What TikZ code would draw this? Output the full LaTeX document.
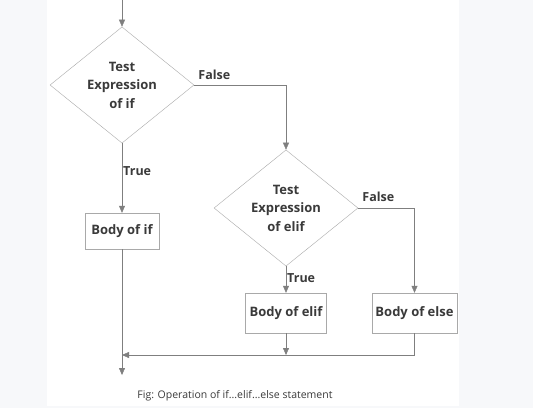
\documentclass[tikz,border=0pt]{standalone}
\usepackage{fontspec}
\setmainfont{Open Sans}
\usetikzlibrary{shapes.geometric, arrows.meta, positioning}
\definecolor{LineGray}{HTML}{7F7F7F}
\definecolor{EdgeGray}{HTML}{A9A9A9}
\definecolor{TextGray}{HTML}{3A3A3A}
\definecolor{PageGray}{HTML}{F7F8FA}
\tikzstyle{test_box}=[diamond,
        draw=EdgeGray,
        minimum width=144pt,
        minimum height=112pt,
        inner sep=0pt,
        align=center,
        text=TextGray,
        font=\fontsize{13}{18.5}\selectfont\bfseries, ]
\tikzstyle{body_box}=[rectangle,
        draw=EdgeGray,
        minimum height=38pt,
        inner sep=0pt,
        text=TextGray,
        font=\fontsize{13}{15}\selectfont\bfseries, ]
\tikzstyle{flow}=[draw=LineGray, -{Triangle[width=6pt,length=7pt]}]
\tikzstyle{branch_label}=[text=TextGray, inner sep=1pt,
        font=\fontsize{12.5}{15}\selectfont\bfseries]

\begin{document}
\begin{tikzpicture}[x=1pt, y=-1pt]
    \fill[PageGray] (0,0) rectangle (533,408);
    \fill[white] (47,0) rectangle (459,406);
    \useasboundingbox (0,0) rectangle (533,408);

    \node at (122, 85) (test_if) [test_box] {Test\\Expression\\of if};
    \node at (286, 208) (test_elif) [test_box, minimum height=110pt] {Test\\Expression\\of elif};

    \node at (122, 231) (body_if) [body_box, minimum width=74pt, minimum height=36pt] {Body of if};
    \node at (286, 313) (body_elif) [body_box, minimum width=81pt, minimum height=40pt] {Body of elif};
    \node at (414.5, 313) (body_else) [body_box, minimum width=85pt, minimum height=40pt] {Body of else};

    \coordinate (start) at (122, 0);
    \coordinate (finish) at (122, 375);
    \coordinate (merge) at (286, 355);
    \coordinate (merge_left) at (122, 355);

    \draw[flow] (start) -- (test_if.north);
    \draw[flow] (test_if.south) -- node[branch_label, right, pos=0.4] (true_if) {True} (body_if.north);
    \draw[flow] (test_if.east) -| node[branch_label, anchor=south west, pos=0, xshift=3pt, yshift=4pt] (false_if) {False} (test_elif.north);
    \draw[flow] (test_elif.south) -- node[branch_label, right, pos=0.43] (true_elif) {True} (body_elif.north);
    \draw[flow] (test_elif.east) -| node[branch_label, anchor=south west, pos=0, xshift=3pt, yshift=5pt] (false_elif) {False} (body_else.north);
    \draw[flow] (body_if.south) -- (finish);
    \draw[flow] (body_elif.south) -- (merge);
    \draw[flow] (body_else.south) |- (merge_left);

    \node at (235, 396) (caption) [text=TextGray, font=\fontsize{10.5}{12}\selectfont] {Fig: Operation of if...elif...else statement};
\end{tikzpicture}
\end{document}
